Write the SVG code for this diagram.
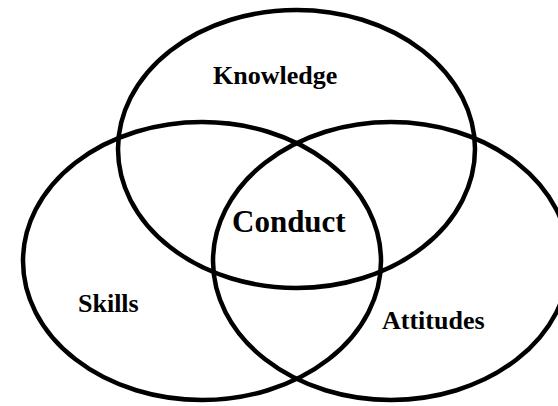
<svg xmlns="http://www.w3.org/2000/svg" width="558" height="406" viewBox="0 0 558 406">
<style>
.c{fill:none;stroke:#000;stroke-width:4.5}
.t{font-family:"Liberation Serif","Times New Roman",serif;font-weight:bold;fill:#000}
.l{font-size:26px}
.m{font-size:31px}
</style>
<rect width="558" height="406" fill="#fff"/>
<g id="knowledge"><ellipse class="c" cx="296.5" cy="149" rx="178.5" ry="139"/><text class="t l" x="213" y="84">Knowledge</text></g>
<g id="skills"><ellipse class="c" cx="202" cy="261" rx="179" ry="139"/><text class="t l" x="78" y="312">Skills</text></g>
<g id="attitudes"><ellipse class="c" cx="391" cy="261" rx="178" ry="139"/><text class="t l" x="382" y="329">Attitudes</text></g>
<g id="conduct"><text class="t m" x="232" y="232">Conduct</text></g>
<g id="connectors"/>
</svg>
